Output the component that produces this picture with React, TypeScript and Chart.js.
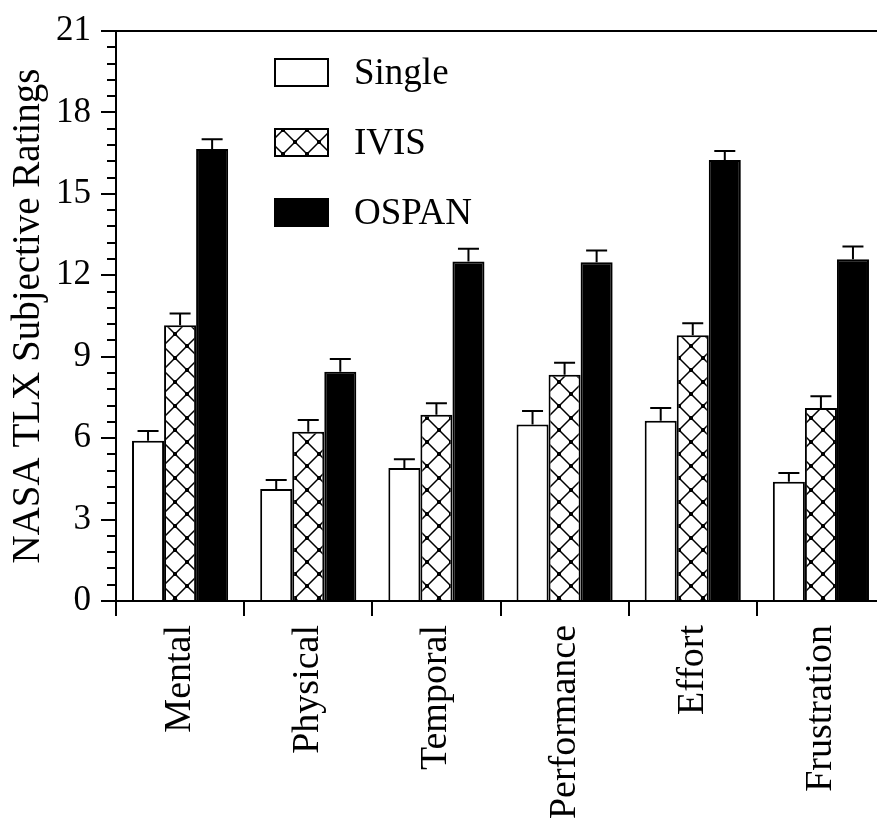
import React, { useEffect, useRef } from "react";
import { Chart, registerables } from "chart.js";

Chart.register(...registerables);

const categories = ["Mental", "Physical", "Temporal", "Performance", "Effort", "Frustration"];
const seriesNames = ["Single", "IVIS", "OSPAN"];
const singleMeans = [5.9, 4.13, 4.9, 6.5, 6.64, 4.39];
const singleErrors = [0.36, 0.33, 0.32, 0.5, 0.47, 0.33];
const ivisMeans = [10.16, 6.24, 6.86, 8.34, 9.79, 7.11];
const ivisErrors = [0.43, 0.43, 0.43, 0.44, 0.44, 0.43];
const ospanMeans = [16.65, 8.45, 12.51, 12.48, 16.25, 12.59];
const ospanErrors = [0.36, 0.47, 0.47, 0.43, 0.33, 0.47];
const yTickValues = [0, 3, 6, 9, 12, 15, 18, 21];
const yTitle = "NASA TLX Subjective Ratings";

const FONT = "'Liberation Serif', 'Times New Roman', serif";

function makeCrossPattern(ctx: CanvasRenderingContext2D): CanvasPattern | string {
  const c = document.createElement("canvas");
  c.width = 24;
  c.height = 24;
  const g = c.getContext("2d");
  if (!g) return "#fff";
  g.fillStyle = "#fff";
  g.fillRect(0, 0, 24, 24);
  g.strokeStyle = "#000";
  g.lineWidth = 1.5;
  g.beginPath();
  g.moveTo(0, 0);
  g.lineTo(24, 24);
  g.moveTo(24, 0);
  g.lineTo(0, 24);
  g.stroke();
  g.fillStyle = "#000";
  g.fillRect(10, 10, 4, 4);
  g.fillRect(-2, -2, 4, 4);
  g.fillRect(22, -2, 4, 4);
  g.fillRect(-2, 22, 4, 4);
  g.fillRect(22, 22, 4, 4);
  const p = ctx.createPattern(c, "repeat");
  if (!p) return "#fff";
  try {
    p.setTransform(new DOMMatrix().translate(-5, 10));
  } catch (e) {}
  return p;
}

export default function App() {
  const ref = useRef<HTMLCanvasElement | null>(null);

  useEffect(() => {
    const canvas = ref.current;
    if (!canvas) return;
    const ctx = canvas.getContext("2d");
    if (!ctx) return;
    const pattern = makeCrossPattern(ctx);
    const errors = [singleErrors, ivisErrors, ospanErrors];

    const errorBars = {
      id: "errorBars",
      afterDatasetsDraw(chart: any) {
        const c = chart.ctx;
        const y = chart.scales.y;
        c.save();
        c.strokeStyle = "#000";
        c.lineWidth = 2;
        chart.data.datasets.forEach((ds: any, di: number) => {
          const meta = chart.getDatasetMeta(di);
          meta.data.forEach((bar: any, i: number) => {
            const top = y.getPixelForValue(ds.data[i] + errors[di][i]);
            c.beginPath();
            c.moveTo(bar.x, bar.y);
            c.lineTo(bar.x, top);
            c.moveTo(bar.x - 10.5, top);
            c.lineTo(bar.x + 10.5, top);
            c.stroke();
          });
        });
        c.restore();
      },
    };

    const frameAndLegend = {
      id: "frameAndLegend",
      afterDraw(chart: any) {
        const c = chart.ctx;
        const a = chart.chartArea;
        const y = chart.scales.y;
        c.save();
        c.strokeStyle = "#000";
        c.lineWidth = 2;
        // top frame
        c.beginPath();
        c.moveTo(a.left - 1, a.top);
        c.lineTo(chart.width, a.top);
        c.stroke();
        // minor ticks
        c.beginPath();
        for (let i = 0; i <= 35; i++) {
          if (i % 5 === 0) continue;
          const py = Math.round(y.getPixelForValue(i * 0.6));
          c.moveTo(a.left - 9, py);
          c.lineTo(a.left, py);
        }
        c.stroke();
        // legend
        const lx = a.left + 158;
        const fills: any[] = ["#fff", pattern, "#000"];
        c.font = `37px ${FONT}`;
        c.textBaseline = "middle";
        c.textAlign = "left";
        seriesNames.forEach((name, i) => {
          const ty = a.top + 27 + i * 70;
          c.fillStyle = fills[i];
          c.fillRect(lx, ty, 55, 29);
          c.strokeStyle = "#000";
          c.lineWidth = 2;
          c.strokeRect(lx + 1, ty + 1, 53, 27);
          c.fillStyle = "#000";
          c.fillText(name, lx + 80, ty + 16);
        });
        c.restore();
      },
    };

    const chart = new Chart(canvas, {
      type: "bar",
      data: {
        labels: categories,
        datasets: [
          {
            label: seriesNames[0],
            data: singleMeans,
            backgroundColor: "#fff",
            borderColor: "#000",
            borderWidth: 2,
          },
          {
            label: seriesNames[1],
            data: ivisMeans,
            backgroundColor: pattern as any,
            borderColor: "#000",
            borderWidth: 2,
          },
          {
            label: seriesNames[2],
            data: ospanMeans,
            backgroundColor: "#000",
            borderColor: "#000",
            borderWidth: 2,
          },
        ],
      },
      options: {
        responsive: false,
        animation: false,
        devicePixelRatio: 1,
        layout: { padding: { top: 22, right: 15, bottom: 0, left: 0 } },
        datasets: { bar: { categoryPercentage: 0.75, barPercentage: 1 } },
        plugins: {
          legend: { display: false },
          tooltip: { enabled: false },
        },
        scales: {
          x: {
            grid: {
              display: true,
              drawOnChartArea: false,
              drawTicks: true,
              tickLength: 15,
              color: "#000",
              lineWidth: 2,
              offset: true,
            },
            border: { display: true, color: "#000", width: 2 },
            ticks: {
              color: "#000",
              font: { family: FONT, size: 38 },
              minRotation: 90,
              maxRotation: 90,
              padding: 9,
              autoSkip: false,
            },
            afterFit(scale: any) {
              scale.height = 219;
            },
          },
          y: {
            min: 0,
            max: 21,
            grid: {
              display: true,
              drawOnChartArea: false,
              drawTicks: true,
              tickLength: 15,
              color: "#000",
              lineWidth: 2,
            },
            border: { display: true, color: "#000", width: 2 },
            ticks: {
              stepSize: 3,
              color: "#000",
              font: { family: FONT, size: 35 },
              padding: 10,
              callback: (v: any) => (yTickValues.includes(Number(v)) ? String(v) : ""),
            },
            title: {
              display: true,
              text: yTitle,
              color: "#000",
              font: { family: FONT, size: 39, weight: "normal" },
              padding: { top: 5, bottom: 0 },
            },
            afterFit(scale: any) {
              scale.width = 116;
            },
          },
        },
      },
      plugins: [errorBars, frameAndLegend],
    });

    return () => chart.destroy();
  }, []);

  return (
    <div
      style={{
        position: "fixed",
        left: 0,
        top: 0,
        width: 877,
        height: 820,
        overflow: "hidden",
        background: "#fff",
      }}
    >
      <canvas ref={ref} width={900} height={820} style={{ display: "block" }} />
    </div>
  );
}
